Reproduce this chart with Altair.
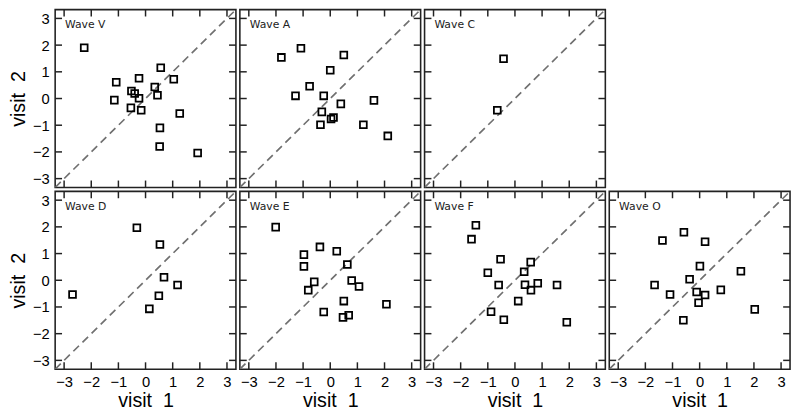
import altair as alt
import pandas as pd

# ---- data ----
WAVES = ["Wave V", "Wave A", "Wave C", "Wave D", "Wave E", "Wave F", "Wave O"]

V_X = [-2.26, -1.08, -1.15, -0.52, -0.40, -0.24, -0.24, -0.54, -0.16, 0.34, 0.44, 0.56, 1.04, 1.26, 0.53, 0.52, 1.92]
V_Y = [1.90, 0.61, -0.06, 0.28, 0.19, 0.76, 0.01, -0.35, -0.44, 0.43, 0.12, 1.15, 0.72, -0.56, -1.10, -1.80, -2.04]

A_X = [-1.80, -1.08, 0.50, 0.00, -0.76, -1.28, -0.24, 0.39, -0.31, 0.03, 0.12, -0.36, 1.61, 1.22, 2.12]
A_Y = [1.54, 1.88, 1.63, 1.06, 0.46, 0.10, 0.10, -0.20, -0.50, -0.77, -0.71, -0.98, -0.07, -0.98, -1.40]

C_X = [-0.42, -0.65]
C_Y = [1.49, -0.44]

D_X = [-0.32, 0.53, 0.68, 1.18, 0.49, 0.14, -2.69]
D_Y = [1.97, 1.34, 0.11, -0.18, -0.58, -1.07, -0.53]

E_X = [-2.01, -0.38, 0.24, -0.97, -0.97, 0.63, -0.59, -0.81, 0.79, 1.06, 0.50, -0.24, 0.47, 0.68, 2.07]
E_Y = [1.99, 1.25, 1.09, 0.96, 0.52, 0.59, -0.06, -0.37, -0.01, -0.23, -0.78, -1.19, -1.39, -1.31, -0.90]

F_X = [-1.44, -1.60, -0.53, 0.58, -1.00, 0.34, -0.60, 0.37, 0.84, 0.59, 1.55, 0.12, -0.88, -0.41, 1.91]
F_Y = [2.06, 1.54, 0.79, 0.68, 0.28, 0.32, -0.18, -0.17, -0.11, -0.37, -0.18, -0.78, -1.18, -1.48, -1.57]

O_X = [-0.58, -1.37, 0.20, 0.01, 1.52, -0.37, -1.66, -1.09, -0.11, 0.20, 0.78, -0.04, 2.03, -0.60]
O_Y = [1.80, 1.49, 1.44, 0.53, 0.34, 0.04, -0.18, -0.53, -0.44, -0.55, -0.36, -0.84, -1.09, -1.50]

TICKS = [-3, -2, -1, 0, 1, 2, 3]
LIMIT = 3.33
X_TITLE = "visit\u00a0\u00a01"
Y_TITLE = "visit\u00a0\u00a02"

W, H = 184, 181
TL = 7  # inward tick length
FONT = "Liberation Sans"

scale = alt.Scale(domain=[-LIMIT, LIMIT], nice=False, zero=False)


def x_axis(show):
    if not show:
        return None
    return alt.Axis(values=TICKS, format="d", title=X_TITLE, ticks=False, domain=False,
                    grid=False, labelFont=FONT, labelFontSize=15, labelColor="black",
                    titleFont=FONT, titleFontSize=20, titleFontWeight="normal",
                    titleColor="black", labelPadding=6, titlePadding=1, labelFlush=False)


def y_axis(show):
    if not show:
        return None
    return alt.Axis(values=TICKS, format="d", title=Y_TITLE, ticks=False, domain=False,
                    grid=False, labelFont=FONT, labelFontSize=15, labelColor="black",
                    titleFont=FONT, titleFontSize=20, titleFontWeight="normal",
                    titleColor="black", labelPadding=6, titlePadding=4)


def panel(name, xs, ys, show_x, show_y):
    pts = pd.DataFrame({"visit1": xs, "visit2": ys})
    ticks = pd.DataFrame({"visit1": TICKS, "visit2": TICKS})
    diag = pd.DataFrame({"visit1": [-LIMIT, LIMIT], "visit2": [-LIMIT, LIMIT]})
    lab = pd.DataFrame({"label": [name]})

    X = alt.X("visit1:Q", scale=scale, axis=x_axis(show_x), title=X_TITLE)
    Y = alt.Y("visit2:Q", scale=scale, axis=y_axis(show_y), title=Y_TITLE)

    diag_l = alt.Chart(diag).mark_line(color="#707070", strokeWidth=1.7,
                                       strokeDash=[8, 5], clip=True).encode(x=X, y=Y)
    pts_l = alt.Chart(pts).mark_point(shape="square", filled=False, size=48,
                                      strokeWidth=1.8, color="black", opacity=1).encode(x=X, y=Y)
    tick_style = dict(color="#222222", strokeWidth=1.5)
    t_bottom = alt.Chart(ticks).mark_rule(**tick_style).encode(
        x=X, y=alt.value(H), y2=alt.value(H - TL))
    t_top = alt.Chart(ticks).mark_rule(**tick_style).encode(
        x=X, y=alt.value(0), y2=alt.value(TL))
    t_left = alt.Chart(ticks).mark_rule(**tick_style).encode(
        y=Y, x=alt.value(0), x2=alt.value(TL))
    t_right = alt.Chart(ticks).mark_rule(**tick_style).encode(
        y=Y, x=alt.value(W), x2=alt.value(W - TL))
    text_l = alt.Chart(lab).mark_text(align="left", baseline="middle", font="DejaVu Sans",
                                      fontSize=11, color="#222222").encode(
        text="label:N", x=alt.value(10), y=alt.value(16))

    return alt.layer(diag_l, t_bottom, t_top, t_left, t_right, text_l, pts_l).properties(
        width=W, height=H)


top = alt.hconcat(
    panel(WAVES[0], V_X, V_Y, False, True),
    panel(WAVES[1], A_X, A_Y, False, False),
    panel(WAVES[2], C_X, C_Y, False, False),
    spacing=0,
)
bottom = alt.hconcat(
    panel(WAVES[3], D_X, D_Y, True, True),
    panel(WAVES[4], E_X, E_Y, True, False),
    panel(WAVES[5], F_X, F_Y, True, False),
    panel(WAVES[6], O_X, O_Y, True, False),
    spacing=0,
)

chart = alt.vconcat(top, bottom, spacing=0).properties(
    padding={"left": 0, "top": -4, "right": 0, "bottom": 0},
    autosize=alt.AutoSizeParams(type="pad"),
).configure_view(
    stroke="#222222", strokeWidth=1.6
).configure_concat(spacing=0)

chart.save("out.html", embed_options={"renderer": "svg", "actions": False})
